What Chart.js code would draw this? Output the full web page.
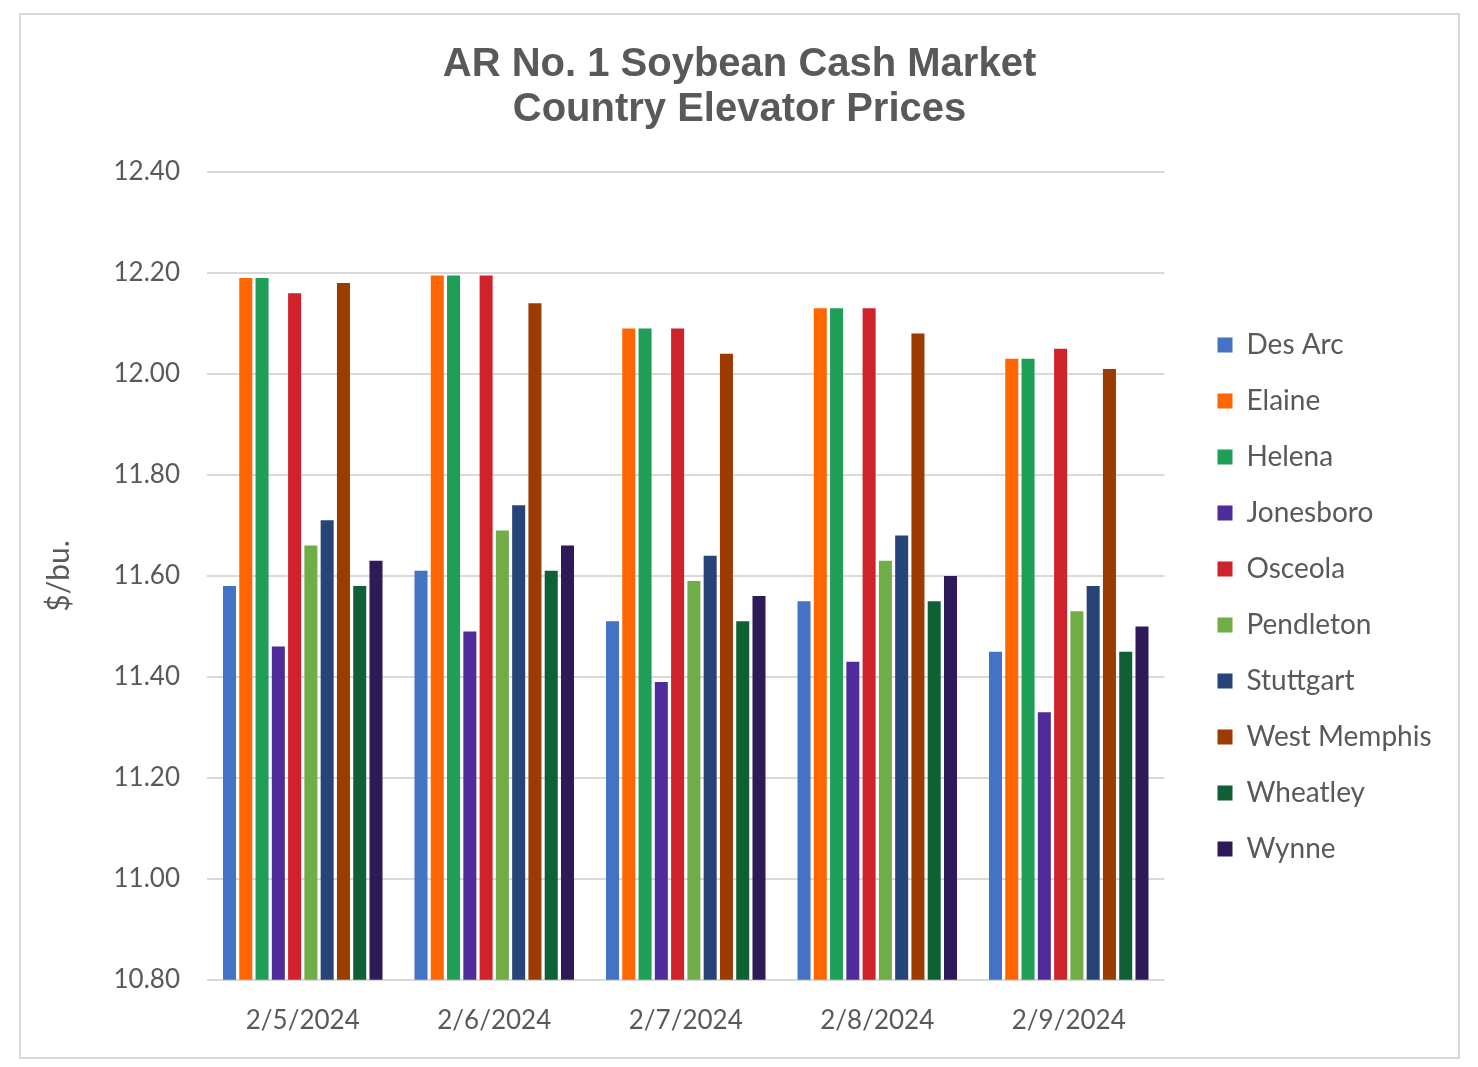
<!DOCTYPE html>
<html>
<head>
<meta charset="utf-8">
<script src="https://cdn.jsdelivr.net/npm/chart.js@4/dist/chart.umd.min.js"></script>
<style>
  html, body { margin: 0; padding: 0; background: #fff; }
  #box {
    position: absolute; left: 19px; top: 13px;
    width: 1441px; height: 1046px;
    border: 2px solid #d9d9d9; box-sizing: border-box;
  }
  #box canvas { display: block; }
</style>
</head>
<body>
<div id="box"><canvas id="soyChart"></canvas></div>
<script>
// dates on the x axis
const dates = ['2/5/2024', '2/6/2024', '2/7/2024', '2/8/2024', '2/9/2024'];

// price per location ($/bu.)
const desArc      = [11.58, 11.61, 11.51, 11.55, 11.45];
const elaine      = [12.19, 12.195, 12.09, 12.13, 12.03];
const helena      = [12.19, 12.195, 12.09, 12.13, 12.03];
const jonesboro   = [11.46, 11.49, 11.39, 11.43, 11.33];
const osceola     = [12.16, 12.195, 12.09, 12.13, 12.05];
const pendleton   = [11.66, 11.69, 11.59, 11.63, 11.53];
const stuttgart   = [11.71, 11.74, 11.64, 11.68, 11.58];
const westMemphis = [12.18, 12.14, 12.04, 12.08, 12.01];
const wheatley    = [11.58, 11.61, 11.51, 11.55, 11.45];
const wynne       = [11.63, 11.66, 11.56, 11.60, 11.50];

const locations = ['Des Arc', 'Elaine', 'Helena', 'Jonesboro', 'Osceola',
                   'Pendleton', 'Stuttgart', 'West Memphis', 'Wheatley', 'Wynne'];
const seriesValues = [desArc, elaine, helena, jonesboro, osceola,
                      pendleton, stuttgart, westMemphis, wheatley, wynne];
const colors = ['#4472c4', '#ff6600', '#1e9e57', '#4f2c99', '#d0222b',
                '#70ad47', '#264478', '#9c3b00', '#0f6034', '#2e1a59'];

const textGray = '#595959';
const gridGray = '#d9d9d9';

// leave some empty room right of the legend text, like the original
const legendRoom = {
    id: 'legendRoom',
    afterInit(chart) {
        const legend = chart.legend;
        const fit = legend.fit.bind(legend);
        legend.fit = function () {
            fit();
            this.width += 29;
        };
    },
};

const ctx = document.getElementById('soyChart').getContext('2d');
const soyChart = new Chart(ctx, {
    type: 'bar',
    data: {
        labels: dates,
        datasets: locations.map((name, i) => ({
            label: name,
            data: seriesValues[i],
            backgroundColor: colors[i],
            borderWidth: 0,
            barPercentage: 0.8,
            categoryPercentage: 0.85,
        })),
    },
    options: {
        responsive: true,
        maintainAspectRatio: false,
        animation: false,
        layout: { padding: { left: 0, right: 0, top: 27, bottom: 4 } },
        scales: {
            x: {
                grid: { display: false },
                border: { display: false },
                ticks: { color: textGray, font: { family: 'Lato', size: 26 }, padding: 17 },
            },
            y: {
                min: 10.8,
                max: 12.4,
                ticks: {
                    stepSize: 0.2,
                    color: textGray,
                    font: { family: 'Lato', size: 26 },
                    padding: 27,
                    callback: (v) => v.toFixed(2),
                },
                grid: { color: gridGray, lineWidth: 2, drawTicks: false },
                border: { display: false },
                title: {
                    display: true,
                    text: '$/bu.',
                    color: textGray,
                    font: { family: 'Lato', size: 30 },
                    padding: { top: 20, bottom: 0 },
                },
                afterFit: (scale) => { scale.width = 186; },
            },
            // empty axis on the right, keeps the gap before the legend
            gap: {
                position: 'right',
                grid: { display: false },
                border: { display: false },
                ticks: { display: false },
                afterFit: (scale) => { scale.width = 25; },
            },
        },
        plugins: {
            title: {
                display: true,
                text: ['AR No. 1 Soybean Cash Market', 'Country Elevator Prices'],
                color: textGray,
                font: { family: 'Liberation Sans', size: 40, weight: 'bold', lineHeight: 1.125 },
                padding: { top: 0, bottom: 40 },
            },
            legend: {
                position: 'right',
                align: 'start',
                fullSize: false,
                title: { display: true, text: ' ', font: { size: 11, lineHeight: 1 }, padding: { top: 120, bottom: 0 } },
                labels: {
                    color: textGray,
                    font: { family: 'Lato', size: 28 },
                    boxWidth: 15,
                    boxHeight: 15,
                    padding: 28,
                },
            },
            tooltip: { enabled: false },
        },
    },
    plugins: [legendRoom],
});
</script>
</body>
</html>
